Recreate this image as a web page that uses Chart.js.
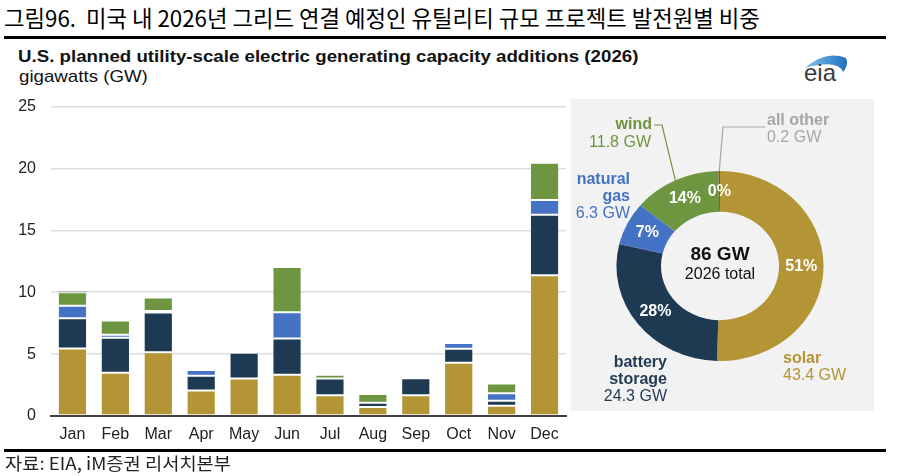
<!DOCTYPE html>
<html>
<head>
<meta charset="utf-8">
<script src="https://cdn.jsdelivr.net/npm/chart.js@4/dist/chart.umd.min.js"></script>
<style>
  html, body { margin:0; padding:0; background:#fff; }
  body { width:907px; height:476px; position:relative; overflow:hidden; font-family:"Liberation Sans", Arial, sans-serif; }
  .abs { position:absolute; white-space:nowrap; }
  .kr { font-family:"Noto Sans CJK KR", sans-serif; }
  .vc { transform:translateY(-50%); }
  .r { text-align:right; }
  .b { font-weight:bold; }
  .lbl { font-size:16px; line-height:18px; }
  .sx { transform-origin:0 50%; transform:translateY(-50%) scaleX(1.1); }
  canvas { display:block; }
</style>
</head>
<body>
<div class="abs kr vc" style="left:4px;top:17px;font-size:22.3px;line-height:28px;color:#000;">그림96.&nbsp; 미국 내 2026년 그리드 연결 예정인 유틸리티 규모 프로젝트 발전원별 비중</div>
<div class="abs" style="left:4px;top:36px;width:882px;height:3px;background:#000;"></div>

<div class="abs sx b" style="left:18px;top:57px;font-size:17px;line-height:20px;color:#111;">U.S. planned utility-scale electric generating capacity additions (2026)</div>
<div class="abs sx" style="left:19px;top:77px;font-size:17px;line-height:20px;color:#111;">gigawatts (GW)</div>

<svg class="abs" style="left:795px;top:48px;" width="60" height="40" viewBox="795 48 60 40">
  <defs><linearGradient id="g" x1="0" x2="1" y1="0" y2="0"><stop offset="0" stop-color="#7FC3EE"/><stop offset="1" stop-color="#1F6FC0"/></linearGradient></defs>
  <path d="M805,68 Q826,50 846,58 Q849,65 843,72 Q838,59 805,68 Z" fill="url(#g)"/>
  <text x="804" y="81" font-family="Liberation Sans, Arial" font-size="24" fill="#3a3a3a">eia</text>
</svg>

<div class="abs" style="left:571px;top:99px;width:303px;height:312px;background:#F2F2F2;"></div>

<div class="abs" style="left:0;top:82px;width:570px;height:368px;"><canvas id="bars" width="570" height="368"></canvas></div>
<div class="abs" style="left:571px;top:99px;width:303px;height:312px;"><canvas id="donut" width="303" height="312"></canvas></div>

<div class="abs lbl vc b r" style="right:255px;top:124px;color:#6E9640;">wind</div>
<div class="abs lbl vc r" style="right:256px;top:142px;color:#6E9640;">11.8 GW</div>
<div class="abs lbl vc b" style="left:767px;top:120px;color:#A6A6A6;">all other</div>
<div class="abs lbl vc" style="left:767px;top:137px;color:#A6A6A6;">0.2 GW</div>
<div class="abs lbl vc b r" style="right:277px;top:179px;color:#4472C4;">natural</div>
<div class="abs lbl vc b r" style="right:277px;top:196px;color:#4472C4;">gas</div>
<div class="abs lbl vc r" style="right:277px;top:213px;color:#4472C4;">6.3 GW</div>
<div class="abs lbl vc b r" style="right:240px;top:362px;color:#1F3A52;">battery</div>
<div class="abs lbl vc b r" style="right:240px;top:379px;color:#1F3A52;">storage</div>
<div class="abs lbl vc r" style="right:240px;top:396px;color:#1F3A52;">24.3 GW</div>
<div class="abs lbl vc b" style="left:783px;top:358px;color:#B39535;">solar</div>
<div class="abs lbl vc" style="left:783px;top:375px;color:#B39535;">43.4 GW</div>

<div class="abs" style="left:4px;top:449px;width:882px;height:3px;background:#000;"></div>
<div class="abs kr sx" style="left:5px;top:463px;font-size:17px;line-height:22px;color:#222;">자료: EIA, iM증권 리서치본부</div>

<script>
// ---- data ----
const months  = ['Jan','Feb','Mar','Apr','May','Jun','Jul','Aug','Sep','Oct','Nov','Dec'];
const solar   = [5.46,3.49,5.16,2.07,3.04,3.33,1.67,0.73,1.67,4.30,0.83,11.37];
const battery = [2.44,2.83,3.20,1.18,2.07,2.93,1.37,0.35,1.39,1.13,0.41,4.89];
const gas     = [1.00,0.24,0.13,0.46,0.00,2.13,0.00,0.00,0.11,0.46,0.59,1.19];
const wind    = [1.10,1.16,1.08,0.00,0.13,3.65,0.29,0.69,0.00,0.00,0.80,3.01];
const other   = [0.06,0.00,0.00,0.00,0.00,0.00,0.00,0.00,0.00,0.00,0.00,0.00];
const yTicks  = [0,5,10,15,20,25];

const donutLabels = ['solar','battery storage','natural gas','wind','all other'];
const donutValues = [43.4,24.3,6.3,11.8,0.2];
const pctLabels   = ['51%','28%','7%','14%','0%'];
const centerTitle = '86 GW';
const centerSub   = '2026 total';

const colors = {solar:'#B39535', battery:'#1E3A52', gas:'#4472C4', wind:'#6E9640', other:'#A89A9A'};

// ---- bar chart ----
const edge = 'rgba(255,255,255,0.3)';
function ds(label, data, color, bw){
  return {label, data, backgroundColor:color, borderColor:edge, borderWidth:bw, borderSkipped:false,
          categoryPercentage:1, barPercentage:0.68};
}
new Chart(document.getElementById('bars'), {
  type:'bar',
  data:{ labels:months, datasets:[
    ds('solar', solar, colors.solar, 1),
    ds('battery storage', battery, colors.battery, 1),
    ds('natural gas', gas, colors.gas, 1),
    ds('wind', wind, colors.wind, 1),
    ds('all other', other, colors.other, 0)
  ]},
  options:{
    responsive:false, animation:false,
    layout:{padding:{top:7,right:4,left:0,bottom:0}},
    plugins:{legend:{display:false}, tooltip:{enabled:false}},
    scales:{
      x:{ stacked:true, offset:true,
          grid:{display:false, drawTicks:false},
          border:{display:true, color:'#404040', width:2},
          ticks:{color:'#222', font:{family:'Liberation Sans', size:16}, padding:9, maxRotation:0, autoSkip:false},
          afterFit(s){ s.height = 34; } },
      y:{ stacked:true, min:yTicks[0], max:yTicks[yTicks.length-1],
          afterBuildTicks(s){ s.ticks = yTicks.map(v=>({value:v})); },
          grid:{color:'#DDDDDD', lineWidth:1.6, drawTicks:false},
          border:{display:false},
          ticks:{color:'#222', font:{family:'Liberation Sans', size:16}, padding:15},
          afterFit(s){ s.width = 51; } }
    }
  }
});

// ---- donut ----
const SX = 1.09;
const donutPlugin = {
  id:'donutExtras',
  beforeDatasetsDraw(chart){
    const a = chart.getDatasetMeta(0).data[0];
    const ctx = chart.ctx;
    ctx.save();
    ctx.translate(a.x, a.y); ctx.scale(SX, 1); ctx.translate(-a.x, -a.y);
  },
  afterDatasetsDraw(chart){
    const ctx = chart.ctx;
    ctx.restore();
    const arcs = chart.getDatasetMeta(0).data;
    ctx.save();
    ctx.fillStyle = '#fff';
    ctx.font = 'bold 16px "Liberation Sans", Arial';
    ctx.textAlign = 'center'; ctx.textBaseline = 'middle';
    arcs.forEach((el,i)=>{
      const p = el.getProps(['x','y','startAngle','endAngle','innerRadius','outerRadius'], true);
      const mid = (p.startAngle + p.endAngle)/2;
      const r = (p.innerRadius + p.outerRadius)/2;
      ctx.fillText(pctLabels[i], p.x + Math.cos(mid)*r*SX, p.y + Math.sin(mid)*r);
    });
    const c = arcs[0].getProps(['x','y'], true);
    ctx.fillStyle = '#111';
    ctx.font = 'bold 19px "Liberation Sans", Arial';
    ctx.fillText(centerTitle, c.x, c.y - 11);
    ctx.font = '16px "Liberation Sans", Arial';
    ctx.fillText(centerSub, c.x, c.y + 9);
    function outerPt(i){
      const p = arcs[i].getProps(['x','y','startAngle','endAngle','outerRadius'], true);
      const mid = (p.startAngle + p.endAngle)/2;
      return [p.x + Math.cos(mid)*p.outerRadius*SX, p.y + Math.sin(mid)*p.outerRadius];
    }
    ctx.lineWidth = 1.2;
    let w = outerPt(3);
    ctx.strokeStyle = colors.wind;
    ctx.beginPath(); ctx.moveTo(w[0], w[1]); ctx.lineTo(91, 26); ctx.lineTo(83, 26); ctx.stroke();
    let o = outerPt(4);
    ctx.strokeStyle = '#A6A6A6';
    ctx.beginPath(); ctx.moveTo(o[0], o[1]); ctx.lineTo(152, 28); ctx.lineTo(194, 28); ctx.stroke();
    ctx.restore();
  }
};
new Chart(document.getElementById('donut'), {
  type:'doughnut',
  data:{ labels:donutLabels, datasets:[{ data:donutValues,
    backgroundColor:[colors.solar, colors.battery, colors.gas, colors.wind, '#9C4A3A'],
    borderWidth:0, clip:false }]},
  options:{
    responsive:false, animation:false, cutout:'57%',
    layout:{padding:{left:54,right:59,top:72,bottom:50}},
    plugins:{legend:{display:false}, tooltip:{enabled:false}}
  },
  plugins:[donutPlugin]
});
</script>
</body>
</html>
